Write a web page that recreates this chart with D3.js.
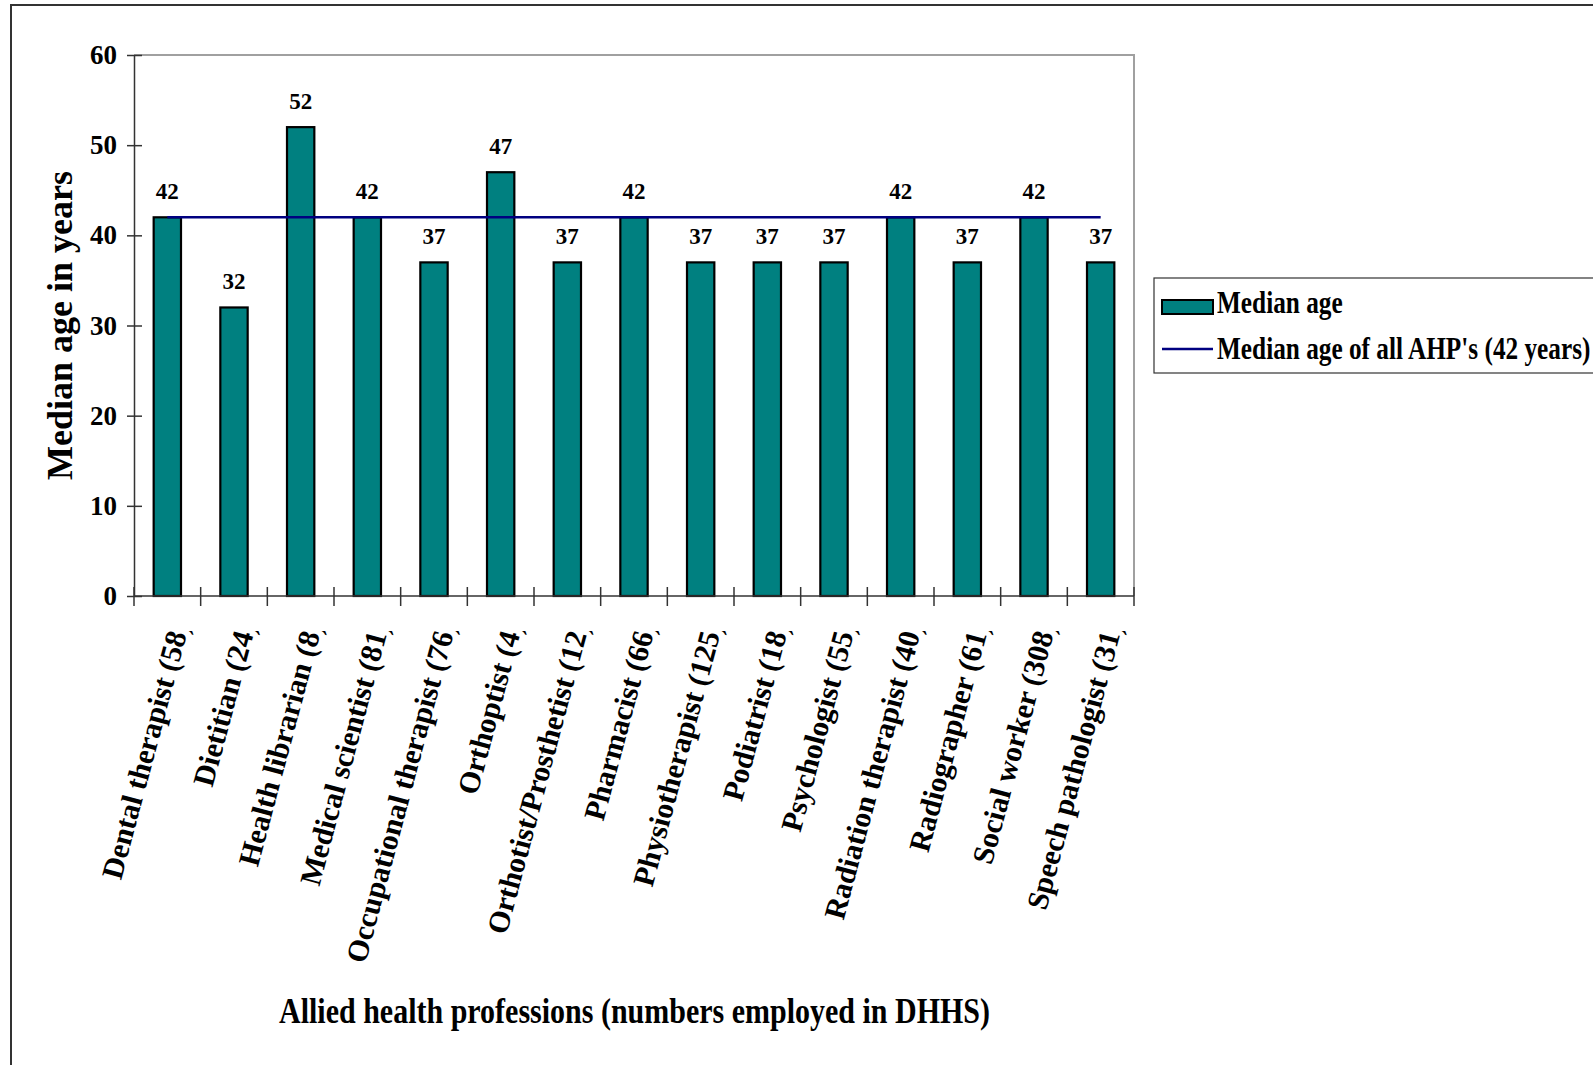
<!DOCTYPE html>
<html>
<head>
<meta charset="utf-8">
<script src="https://cdn.jsdelivr.net/npm/d3@7"></script>
<style>
  html, body { margin: 0; padding: 0; background: #fff; }
  svg { display: block; }
  text { font-family: "Liberation Serif", "Times New Roman", serif; font-weight: bold; fill: #000; }
</style>
</head>
<body>
<svg id="chart" width="1593" height="1065"></svg>
<script>
const categories = [
  "Dental therapist (58)", "Dietitian (24)", "Health librarian (8)", "Medical scientist (81)",
  "Occupational therapist (76)", "Orthoptist (4)", "Orthotist/Prosthetist (12)", "Pharmacist (66)",
  "Physiotherapist (125)", "Podiatrist (18)", "Psychologist (55)", "Radiation therapist (40)",
  "Radiographer (61)", "Social worker (308)", "Speech pathologist (31)"
];
const medianAge = [42, 32, 52, 42, 37, 47, 37, 42, 37, 37, 37, 42, 37, 42, 37];
const overallMedian = [42, 42, 42, 42, 42, 42, 42, 42, 42, 42, 42, 42, 42, 42, 42];
const yTicks = [0, 10, 20, 30, 40, 50, 60];
const seriesNames = ["Median age", "Median age of all AHP's (42 years)"];
const yTitle = "Median age in years";
const xTitle = "Allied health professions (numbers employed in DHHS)";

const svg = d3.select("#chart");
const plot = { left: 134, right: 1134, top: 55, bottom: 596 };

// outer chart border (extends past the canvas)
svg.append("rect").attr("x", 11).attr("y", 5).attr("width", 1700).attr("height", 1200)
  .attr("fill", "#fff").attr("stroke", "#333").attr("stroke-width", 2);

const x = d3.scaleBand().domain(categories).range([plot.left, plot.right])
  .paddingInner(0.59).paddingOuter(0.295);
const y = d3.scaleLinear().domain([0, 60]).range([plot.bottom, plot.top]);

// plot area top/right border (grey)
svg.append("path")
  .attr("d", `M${plot.left},${plot.top}H${plot.right}V${plot.bottom}`)
  .attr("fill", "none").attr("stroke", "#a0a0a0").attr("stroke-width", 2);

// bars
svg.append("g").selectAll("rect").data(medianAge).join("rect")
  .attr("x", (d, i) => x(categories[i]))
  .attr("y", d => y(d))
  .attr("width", x.bandwidth())
  .attr("height", d => y(0) - y(d))
  .attr("fill", "#008080").attr("stroke", "#000").attr("stroke-width", 2.2);

// overall median line
const line = d3.line()
  .x((d, i) => x(categories[i]) + x.bandwidth() / 2)
  .y(d => y(d));
svg.append("path").datum(overallMedian).attr("d", line)
  .attr("fill", "none").attr("stroke", "#000080").attr("stroke-width", 2.5);

// data labels
svg.append("g").selectAll("text").data(medianAge).join("text")
  .attr("x", (d, i) => x(categories[i]) + x.bandwidth() / 2)
  .attr("y", d => y(d) - 18)
  .attr("text-anchor", "middle").attr("font-size", 23)
  .text(d => d);

// y axis
const yAxis = d3.axisLeft(y).tickValues(yTicks).tickSizeInner(7).tickSizeOuter(0).tickPadding(10);
const gy = svg.append("g").attr("transform", `translate(${plot.left},0)`).call(yAxis);
gy.select(".domain").attr("stroke", "#333").attr("stroke-width", 1.5);
gy.selectAll(".tick line").attr("x2", 8).attr("x1", -7).attr("stroke", "#333").attr("stroke-width", 1.5);
gy.selectAll(".tick text").attr("font-size", 27)
  .attr("font-family", "Liberation Serif, serif").attr("font-weight", "bold").attr("fill", "#000")
  .attr("x", -17);

// x axis
const gx = svg.append("g").attr("transform", `translate(0,${plot.bottom})`);
gx.append("line").attr("x1", plot.left).attr("x2", plot.right).attr("y1", 0).attr("y2", 0)
  .attr("stroke", "#333").attr("stroke-width", 1.5);
const step = x.step();
const edges = d3.range(categories.length + 1).map(i => plot.left + i * step);
gx.selectAll("line.tk").data(edges).join("line").attr("class", "tk")
  .attr("x1", d => d).attr("x2", d => d).attr("y1", -9).attr("y2", 10)
  .attr("stroke", "#333").attr("stroke-width", 1.5);

// x labels (rotated, clipped at top)
svg.append("clipPath").attr("id", "xlabClip").append("rect")
  .attr("x", 0).attr("y", 631).attr("width", 1593).attr("height", 500);
svg.append("g").attr("clip-path", "url(#xlabClip)")
  .selectAll("text").data(categories).join("text")
  .attr("transform", d => `translate(${x(d) + x.bandwidth() / 2 + 12},622) rotate(-75)`)
  .attr("text-anchor", "end").attr("dy", "0.35em").attr("font-size", 30)
  .text(d => d);

// axis titles
svg.append("text").attr("transform", `translate(71.5,${(plot.top + plot.bottom) / 2}) rotate(-90)`)
  .attr("text-anchor", "middle").attr("font-size", 36).text(yTitle);
svg.append("text").attr("x", 279).attr("y", 1023).attr("font-size", 35)
  .attr("textLength", 711).attr("lengthAdjust", "spacingAndGlyphs").text(xTitle);

// legend
const lg = svg.append("g");
lg.append("rect").attr("x", 1154).attr("y", 278).attr("width", 600).attr("height", 95)
  .attr("fill", "#fff").attr("stroke", "#333").attr("stroke-width", 1.2);
lg.append("rect").attr("x", 1162).attr("y", 300).attr("width", 51).attr("height", 14)
  .attr("fill", "#008080").attr("stroke", "#000").attr("stroke-width", 2);
lg.append("line").attr("x1", 1162).attr("x2", 1213).attr("y1", 349).attr("y2", 349)
  .attr("stroke", "#000080").attr("stroke-width", 2.5);
[313, 359].forEach((yy, i) => {
  lg.append("text").attr("transform", `translate(1217,${yy}) scale(0.79,1)`)
    .attr("font-size", 32).text(seriesNames[i]);
});
</script>
</body>
</html>
